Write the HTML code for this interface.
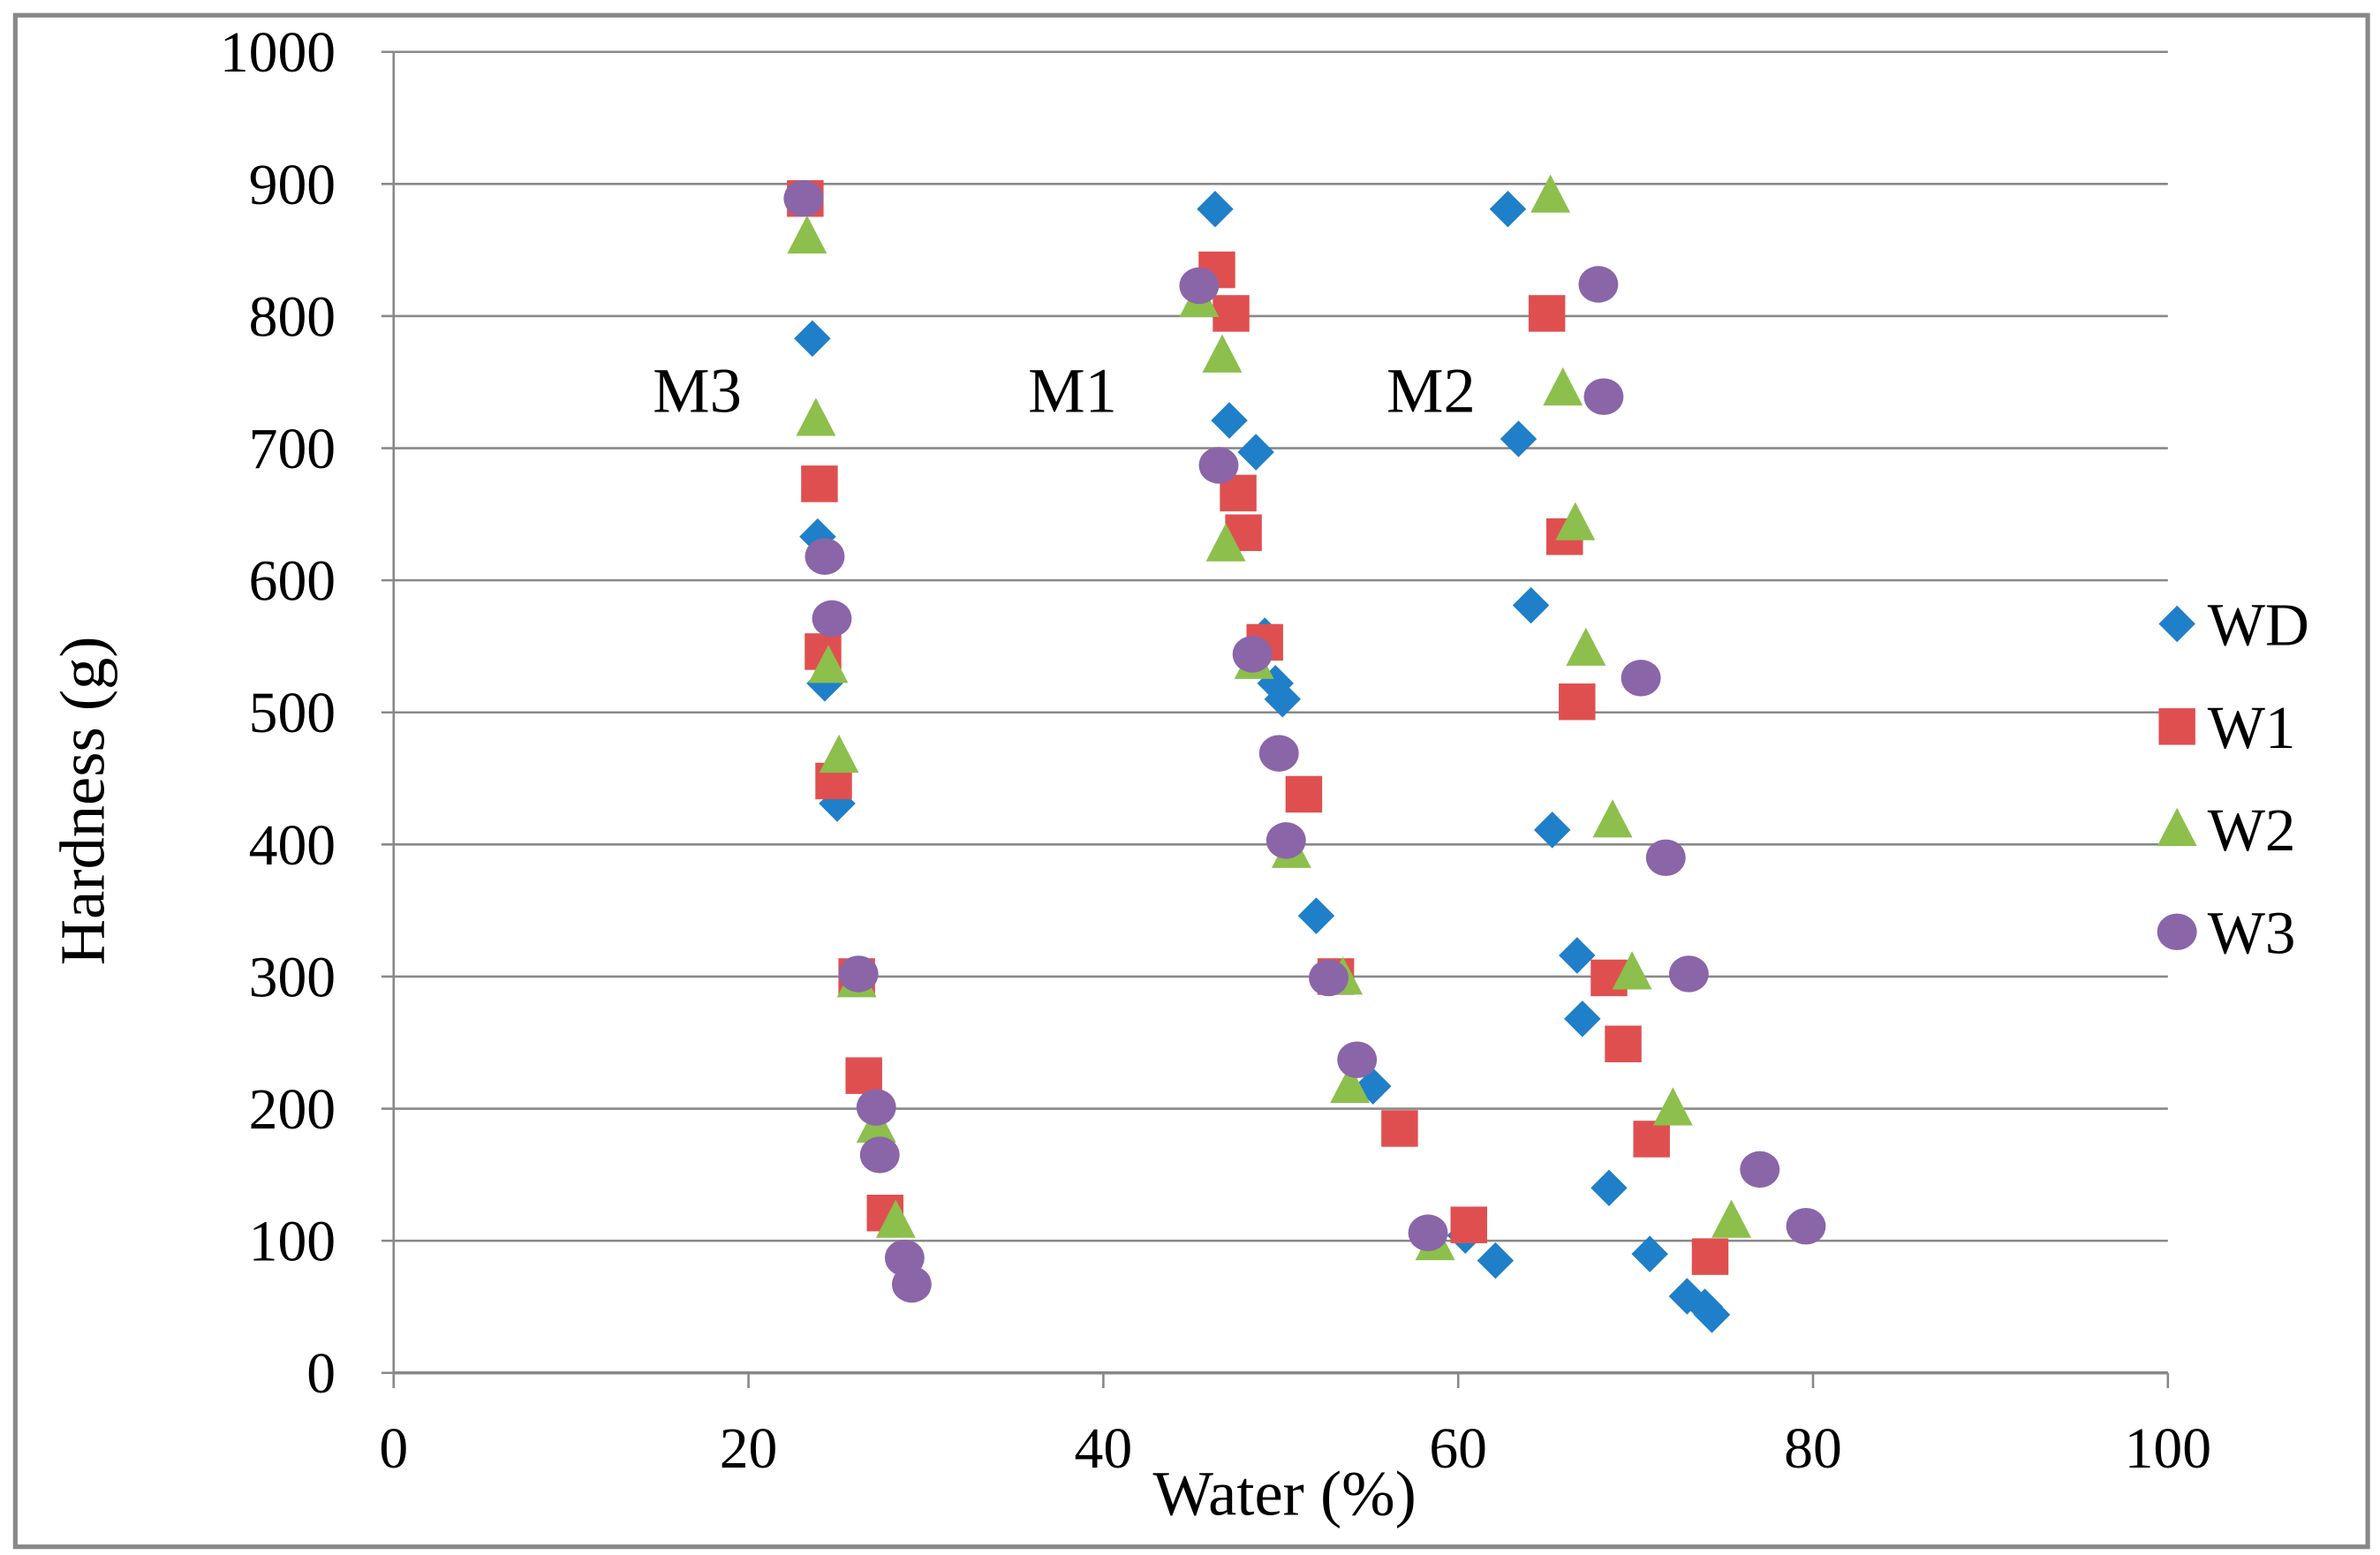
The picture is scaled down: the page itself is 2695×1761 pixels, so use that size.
<!DOCTYPE html>
<html><head><meta charset="utf-8"><style>
html,body{margin:0;padding:0;background:#fff;}
svg{display:block;font-family:"Liberation Serif",serif;}
</style></head><body>
<svg id="chart" width="2695" height="1761" viewBox="0 0 1560 1019.4" xmlns="http://www.w3.org/2000/svg">
<rect x="10" y="10" width="1542" height="1004" fill="#fff" stroke="#888" stroke-width="3"/>
<g id="grid"></g>
<g id="axes"></g>
<g id="marks"></g>
<text transform="translate(68,525) rotate(-90)" text-anchor="middle" font-size="42">Hardness (g)</text>
<text x="842" y="993" text-anchor="middle" font-size="42">Water  (%)</text>
<text x="457" y="270" text-anchor="middle" font-size="42">M3</text>
<text x="703" y="270" text-anchor="middle" font-size="42">M1</text>
<text x="938" y="270" text-anchor="middle" font-size="42">M2</text>
<g id="legend"></g>
</svg>
<script>
const xTicks = [0,20,40,60,80,100];
const yTicks = [0,100,200,300,400,500,600,700,800,900,1000];
const seriesNames = ["WD","W1","W2","W3"];
const wdX = [23.6,23.9,24.3,25.0,46.3,47.1,48.6,49.1,49.7,50.1,52.0,55.2,60.4,62.1,62.8,63.4,64.1,65.3,66.7,67.0,68.5,70.8,72.9,73.9,74.3];
const wdY = [783,633,522,431,881,721,697,558,522,510,346,217,104,85,881,707,581,411,316,268,140,90,58,50,44];
const w1X = [23.2,24.0,24.2,24.8,26.1,26.5,27.7,46.4,47.2,47.6,47.9,49.1,51.3,53.1,56.7,60.6,65.0,66.0,66.7,68.5,69.3,70.9,74.2];
const w1Y = [889,673,546,448,300,225,121,835,802,666,636,553,438,300,185,112,802,633,508,299,249,177,88];
const w2X = [23.3,23.8,24.5,25.1,26.1,27.2,28.3,45.4,46.7,46.9,48.5,50.6,53.5,53.9,58.7,65.2,65.9,66.6,67.2,68.7,69.8,72.1,75.4];
const w2Y = [860,722,535,467,297,187,115,812,770,627,538,395,299,217,98,891,745,643,548,418,303,200,115];
const w3X = [23.1,24.3,24.7,26.2,27.2,27.4,28.8,29.2,45.4,46.5,48.4,49.9,50.3,52.7,54.3,58.3,67.9,68.2,70.3,71.7,73.0,77.0,79.6];
const w3Y = [889,618,571,302,201,165,87,67,823,687,544,469,403,299,237,106,824,739,526,390,302,154,111];

const NS="http://www.w3.org/2000/svg";
const X0=258,X1=1421,Y0=900,Y1=34;
function sx(v){return X0+(v-0)/(100-0)*(X1-X0);}
function sy(v){return Y0-(v-0)/(1000-0)*(Y0-Y1);}
function mk(tag,attrs,parent){const e=document.createElementNS(NS,tag);for(const k in attrs)e.setAttribute(k,attrs[k]);parent.appendChild(e);return e;}
const grid=document.getElementById('grid'),axes=document.getElementById('axes'),marks=document.getElementById('marks'),legend=document.getElementById('legend');
yTicks.forEach(t=>{
  const l=mk('line',{x1:X0-8,x2:X1,y1:sy(t),y2:sy(t),stroke:'#888','stroke-width':1.5},grid);
  
  
  const tx=mk('text',{x:220,y:sy(t)+13,'text-anchor':'end','font-size':38},axes);
  tx.textContent=t;
  
  
});
const ya=mk('line',{x1:X0,x2:X0,y1:Y1,y2:Y0,stroke:'#888','stroke-width':1.5},axes);


const xa=mk('line',{x1:X0,x2:X1,y1:Y0,y2:Y0,stroke:'#888','stroke-width':2},axes);


xTicks.forEach(t=>{
  const l=mk('line',{x1:sx(t),x2:sx(t),y1:Y0,y2:Y0+10,stroke:'#888','stroke-width':1.5},axes);
  
  
  const tx=mk('text',{x:sx(t),y:962,'text-anchor':'middle','font-size':38},axes);
  tx.textContent=t;
  
  
});
const colors=['#1f7fc8','#e04f4f','#8cbf4c','#8a65a8'];
function marker(i,cx,cy,parent){
  let e;
  if(i===0)e=mk('polygon',{points:`${cx},${cy-12} ${cx+12},${cy} ${cx},${cy+12} ${cx-12},${cy}`,fill:colors[0]},parent);
  else if(i===1)e=mk('rect',{x:cx-12,y:cy-12,width:24,height:24,fill:colors[1]},parent);
  else if(i===2)e=mk('polygon',{points:`${cx},${cy-14} ${cx+13},${cy+11} ${cx-13},${cy+11}`,fill:colors[2]},parent);
  else e=mk('ellipse',{cx:cx,cy:cy,rx:13,ry:12,fill:colors[3]},parent);
  return e;
}
const allX=[wdX,w1X,w2X,w3X],allY=[wdY,w1Y,w2Y,w3Y];
for(let s=0;s<4;s++){
  allX[s].forEach((v,j)=>{
    const e=marker(s,sx(v),sy(allY[s][j]),marks);
    
    
  });
}
seriesNames.forEach((n,i)=>{
  const cy=409+i*67.3;
  const e=marker(i,1427,cy,legend);
  
  
  const t=mk('text',{x:1447,y:cy+14,'font-size':40},legend);
  t.textContent=n;
  
  
});
</script>
</body></html>
